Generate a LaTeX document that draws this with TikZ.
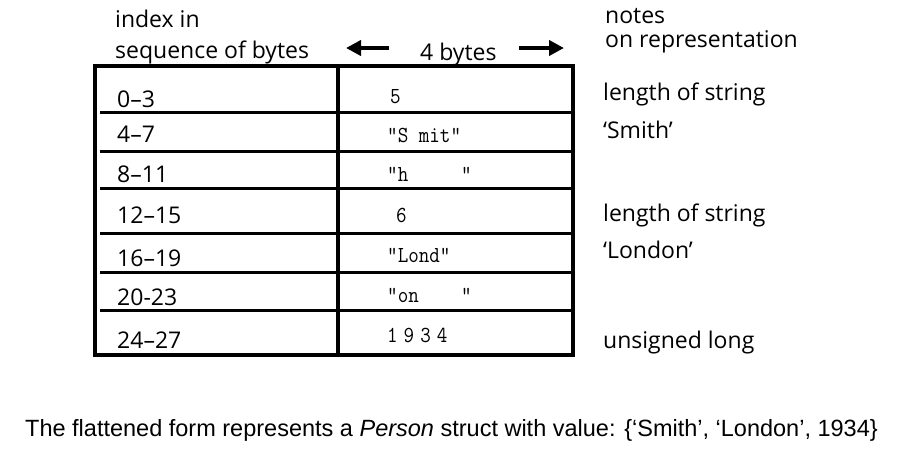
\documentclass[tikz,border=0pt]{standalone}
\usepackage{fontspec}
\usepackage{graphicx}
\setmainfont{Open Sans}
\newfontfamily\capfont{Liberation Sans}
\newcommand{\valtxt}[1]{\scalebox{1}[1.12]{#1}}
\usetikzlibrary{arrows.meta}
\tikzset{
  outer/.style={line width=4pt},
  rowline/.style={line width=3pt},
  lbl/.style={anchor=base west, inner sep=0pt, font=\fontsize{23}{26}\selectfont},
  val/.style={anchor=base west, inner sep=0pt, font=\fontsize{20.5}{24}\ttfamily},
  bigarrow/.style={line width=4.5pt, -{Triangle[length=15pt,width=15pt]}},
}
\begin{document}
\begin{tikzpicture}[x=1pt,y=-1pt]
\useasboundingbox (0,0) rectangle (904,458);
% table
\draw[outer] (95,66) rectangle (573,355);
\draw[outer] (338,66) -- (338,355);
\foreach \yy in {112,151,188,233,272,310}
  \draw[rowline] (100,\yy) -- (572,\yy);
% headers
\node[lbl] (h1) at (115,27) {index in};
\node[lbl] (h2) at (115,58) {sequence of bytes};
\node[lbl] (h4) at (420,60) {4 bytes};
\coordinate (la) at (389,48);
\coordinate (lb) at (346,48);
\coordinate (ra) at (519,48);
\coordinate (rb) at (564,48);
\draw[bigarrow] (la) -- (lb);
\draw[bigarrow] (ra) -- (rb);
\node[lbl] (n1) at (605,23) {notes};
\node[lbl] (n2) at (605,47) {on representation};
% index column
\node[lbl] (i0) at (117,107) {0–3};
\node[lbl] (i1) at (117,142) {4–7};
\node[lbl] (i2) at (117,182) {8–11};
\node[lbl] (i3) at (117,223) {12–15};
\node[lbl] (i4) at (117,266) {16–19};
\node[lbl] (i5) at (117,305) {20-23};
\node[lbl] (i6) at (117,348) {24–27};
% values
\node[val] (v0) at (390,103) {\valtxt{5}};
\node[val] (v1) at (387,142) {\valtxt{"S mit"}};
\node[val] (v2) at (387,181) {\valtxt{"h\ \ \ \ \ "}};
\node[val] (v3) at (396,222) {\valtxt{6}};
\node[val] (v4) at (387,262) {\valtxt{"Lond"}};
\node[val] (v5) at (387,302) {\valtxt{"on\ \ \ \ "}};
\node[val] (v6) at (387,342) {\valtxt{1\hspace{6pt}9\hspace{6pt}3\hspace{6pt}4}};
% notes
\node[lbl] (t0) at (603,100) {length of string};
\node[lbl] (t1) at (603,138) {‘Smith’};
\node[lbl] (t3) at (603,221) {length of string};
\node[lbl] (t4) at (603,258) {‘London’};
\node[lbl] (t6) at (603,348) {unsigned long};
% caption
\node[anchor=base west, inner sep=0pt, font=\fontsize{23.5}{26}\capfont] (cap) at (25,436)
  {The flattened form represents a \textit{Person} struct with value: \{‘Smith’, ‘London’, 1934\}};
\end{tikzpicture}
\end{document}
